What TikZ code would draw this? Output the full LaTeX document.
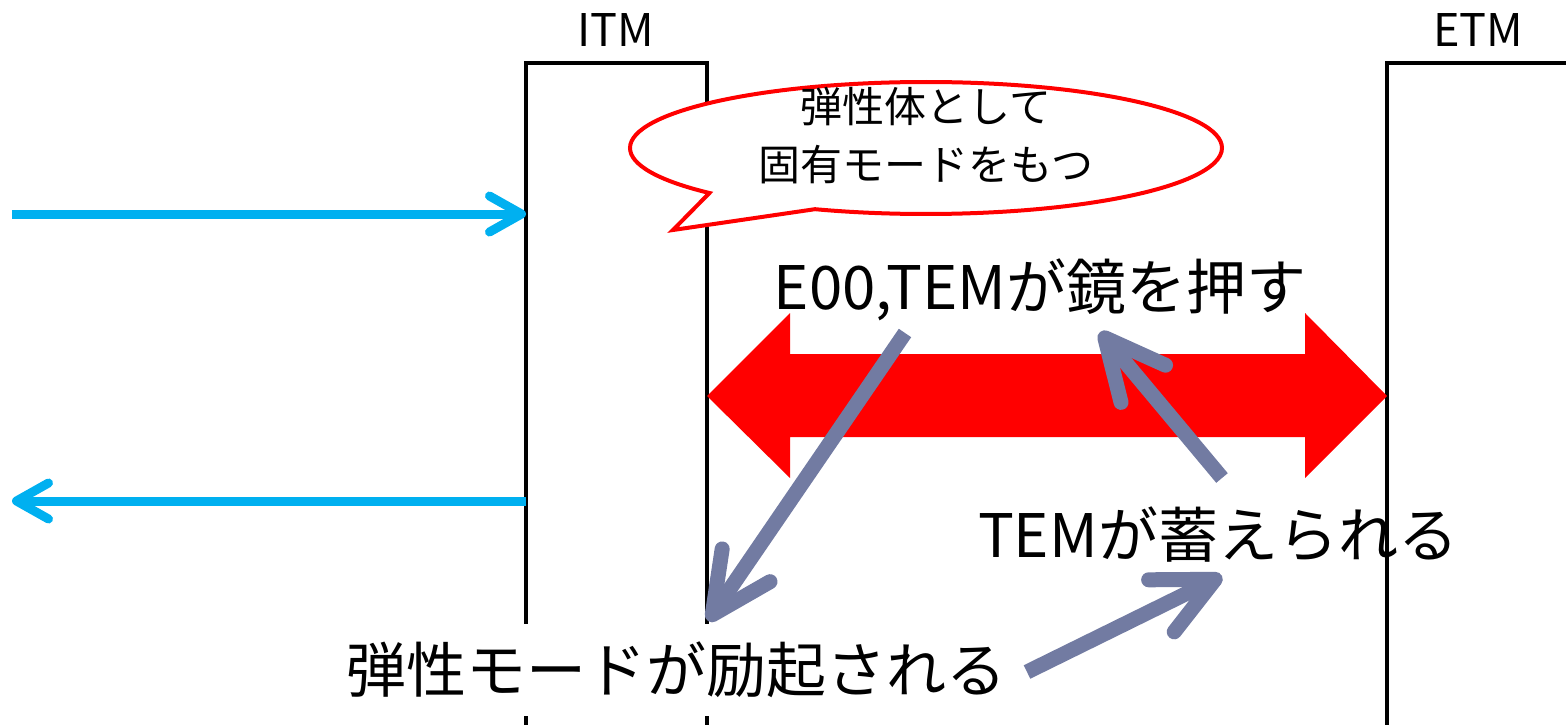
\documentclass[tikz,border=0pt]{standalone}
\usepackage{fontspec}
\setmainfont{Noto Sans CJK JP}
\usepackage{tikz}
\usetikzlibrary{positioning, arrows.meta, shapes.callouts}
\definecolor{beamblue}{HTML}{00B0F0}
\definecolor{notegray}{RGB}{114,123,162}

\begin{document}
\begin{tikzpicture}[x=1pt, y=-1pt,
    mirror/.style={line width=4pt, black},
    beam/.style={line width=9pt, beamblue, -{Straight Barb[length=32pt, width=36pt, round]}},
    note/.style={line width=15pt, notegray, -{Straight Barb[length=60pt, width=58pt, round]}},
    bigtext/.style={font=\fontsize{60}{70}\selectfont, inner sep=0pt},
    mirrorname/.style={font=\fontsize{45}{54}\selectfont, inner sep=0pt}]
    \useasboundingbox (0,0) rectangle (1566,725);

    % mirrors
    \draw[mirror] (526,725) -- (526,63) -- (707,63) -- (707,725);
    \draw[mirror] (1387,725) -- (1387,63) -- (1566,63);
    \node[mirrorname] (itm) at (616,30) {ITM};
    \node[mirrorname] (etm) at (1478,30) {ETM};

    % laser in and out
    \coordinate (inL) at (12,214);
    \coordinate (itmin) at (526,214);
    \coordinate (itmout) at (526,501);
    \coordinate (outL) at (12,501);
    \draw[beam] (inL) -- (itmin);
    \draw[beam] (itmout) -- (outL);

    % pressure between the mirrors
    \fill[red] (707,396) -- (790,313) -- (790,354) -- (1305,354) -- (1305,313)
        -- (1387,396) -- (1305,478) -- (1305,437) -- (790,437) -- (790,478) -- cycle;

    % speech bubble
    \node[ellipse callout, draw=red, line width=4pt, fill=white,
        minimum width=592pt, minimum height=132pt, inner sep=0pt,
        callout absolute pointer={(673,230)}, callout pointer arc=25] (bubble) at (926,148) {};
    \node[align=center, inner sep=0pt, font=\fontsize{42}{58}\selectfont] (bubbletext)
        at (926,136) {弾性体として\\固有モードをもつ};

    % texts
    \node[bigtext] (push) at (1040,290) {E00,TEMが鏡を押す};
    \node[bigtext] (store) at (1218,535) {TEMが蓄えられる};
    \node[bigtext, fill=white, inner xsep=10pt, inner ysep=18pt] (excite) at (676,670)
        {弾性モードが励起される};

    % gray arrows
    \coordinate (a1s) at (905,333);
    \coordinate (a1e) at (708,621);
    \coordinate (a2s) at (1222,478);
    \coordinate (a2e) at (1100,332);
    \coordinate (a3s) at (1027,672);
    \coordinate (a3e) at (1222,576);
    \draw[note] (a1s) -- (a1e);
    \draw[note] (a2s) -- (a2e);
    \draw[note] (a3s) -- (a3e);
\end{tikzpicture}
\end{document}
